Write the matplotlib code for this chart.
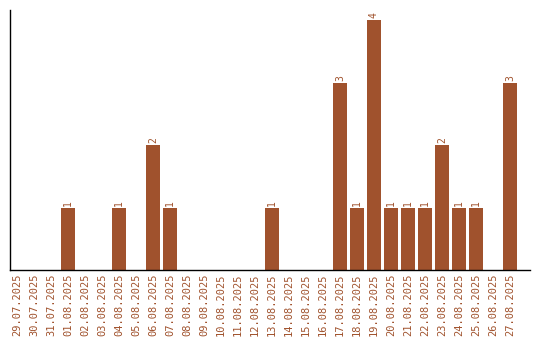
import matplotlib.pyplot as plt
import numpy as np

dates = ['29.07.2025', '30.07.2025', '31.07.2025', '01.08.2025', '02.08.2025',
         '03.08.2025', '04.08.2025', '05.08.2025', '06.08.2025', '07.08.2025',
         '08.08.2025', '09.08.2025', '10.08.2025', '11.08.2025', '12.08.2025',
         '13.08.2025', '14.08.2025', '15.08.2025', '16.08.2025', '17.08.2025',
         '18.08.2025', '19.08.2025', '20.08.2025', '21.08.2025', '22.08.2025',
         '23.08.2025', '24.08.2025', '25.08.2025', '26.08.2025', '27.08.2025']
counts = [0, 0, 0, 1, 0, 0, 1, 0, 2, 1,
          0, 0, 0, 0, 0, 1, 0, 0, 0, 3,
          1, 4, 1, 1, 1, 2, 1, 1, 0, 3]

color = '#a0522d'
plt.rcParams['font.family'] = 'DejaVu Sans Mono'

fig = plt.figure(figsize=(5.4, 3.4), dpi=100)
ax = fig.add_axes([10 / 540, 70 / 340, 520 / 540, 260 / 340])
x = np.arange(len(dates))
bars = ax.bar(x, counts, width=0.82, color=color)
for xi, c in zip(x, counts):
    if c > 0:
        ax.text(xi, c + 0.03, str(c), rotation=90, ha='center', va='bottom',
                fontsize=7, color=color)

ax.set_xticks(x)
ax.set_xticklabels(dates, rotation=90, fontsize=7.5, color=color)
ax.tick_params(axis='x', length=0, pad=2.5)
ax.set_yticks([])
ax.set_xlim(-0.41, 30.18)
ax.set_ylim(0, 4.16)
ax.spines['top'].set_visible(False)
ax.spines['right'].set_visible(False)
ax.spines['left'].set_linewidth(1.0)
ax.spines['bottom'].set_linewidth(1.0)

plt.savefig('out.png', dpi=100)
